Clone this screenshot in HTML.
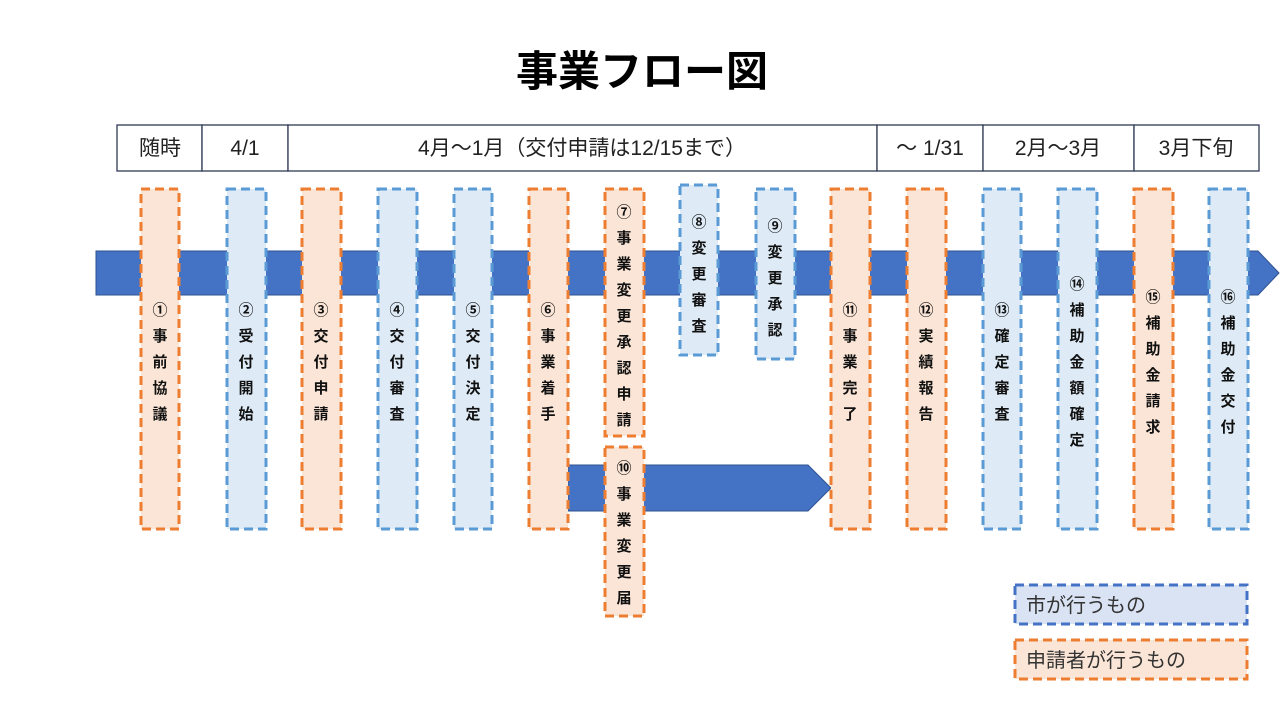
<!DOCTYPE html>
<html><head><meta charset="utf-8"><style>
body{margin:0;background:#fff;}
svg{display:block;font-family:"Liberation Sans","Noto Sans CJK JP",sans-serif;}
</style></head><body>
<svg width="1280" height="720" viewBox="0 0 1280 720">
<text x="642" y="86" font-size="42" font-weight="bold" text-anchor="middle">事業フロー図</text>
<g stroke="#2F3A55" stroke-width="1.3" fill="#fff">
<rect x="117" y="125" width="85" height="46"/>
<rect x="202" y="125" width="86" height="46"/>
<rect x="288" y="125" width="589" height="46"/>
<rect x="877" y="125" width="106" height="46"/>
<rect x="983" y="125" width="151" height="46"/>
<rect x="1134" y="125" width="125" height="46"/>
</g>
<g font-size="21" text-anchor="middle" fill="#222">
<text x="160" y="155">随時</text>
<text x="245" y="155">4/1</text>
<text x="582" y="155">4月～1月（交付申請は12/15まで）</text>
<text x="930" y="155">～ 1/31</text>
<text x="1058" y="155">2月～3月</text>
<text x="1196" y="155">3月下旬</text>
</g>
<polygon points="96,251 1258,251 1279,273 1258,295 96,295" fill="#4472C4" stroke="#2F528F" stroke-width="1"/>
<polygon points="568,465 808,465 831,488 808,511 568,511" fill="#4472C4" stroke="#2F528F" stroke-width="1"/>
<g stroke-width="3" stroke-dasharray="9,5">
<g fill="#FBE5D6" stroke="#ED7D31">
<rect x="141" y="189" width="38" height="340"/>
<rect x="302" y="189" width="39" height="340"/>
<rect x="529" y="189" width="39" height="340"/>
<rect x="605" y="189" width="39" height="247"/>
<rect x="605" y="447" width="39" height="169"/>
<rect x="831" y="189" width="39" height="340"/>
<rect x="907" y="189" width="39" height="340"/>
<rect x="1134" y="189" width="39" height="340"/>
</g>
<g fill="#DEEBF7" stroke="#5B9BD5">
<rect x="227" y="189" width="39" height="340"/>
<rect x="378" y="189" width="39" height="340"/>
<rect x="454" y="189" width="38" height="340"/>
<rect x="680" y="185" width="38" height="170"/>
<rect x="756" y="189" width="39" height="170"/>
<rect x="983" y="189" width="38" height="340"/>
<rect x="1058" y="189" width="39" height="340"/>
<rect x="1209" y="189" width="39" height="340"/>
</g>
</g>
<g font-size="15" font-weight="bold" text-anchor="middle" fill="#111">
<text x="160" y="315"><tspan x="160">①</tspan><tspan x="160" dy="26">事</tspan><tspan x="160" dy="26">前</tspan><tspan x="160" dy="26">協</tspan><tspan x="160" dy="26">議</tspan></text>
<text x="246" y="315"><tspan x="246">②</tspan><tspan x="246" dy="26">受</tspan><tspan x="246" dy="26">付</tspan><tspan x="246" dy="26">開</tspan><tspan x="246" dy="26">始</tspan></text>
<text x="321" y="315"><tspan x="321">③</tspan><tspan x="321" dy="26">交</tspan><tspan x="321" dy="26">付</tspan><tspan x="321" dy="26">申</tspan><tspan x="321" dy="26">請</tspan></text>
<text x="397" y="315"><tspan x="397">④</tspan><tspan x="397" dy="26">交</tspan><tspan x="397" dy="26">付</tspan><tspan x="397" dy="26">審</tspan><tspan x="397" dy="26">査</tspan></text>
<text x="473" y="315"><tspan x="473">⑤</tspan><tspan x="473" dy="26">交</tspan><tspan x="473" dy="26">付</tspan><tspan x="473" dy="26">決</tspan><tspan x="473" dy="26">定</tspan></text>
<text x="548" y="315"><tspan x="548">⑥</tspan><tspan x="548" dy="26">事</tspan><tspan x="548" dy="26">業</tspan><tspan x="548" dy="26">着</tspan><tspan x="548" dy="26">手</tspan></text>
<text x="624" y="217"><tspan x="624">⑦</tspan><tspan x="624" dy="26">事</tspan><tspan x="624" dy="26">業</tspan><tspan x="624" dy="26">変</tspan><tspan x="624" dy="26">更</tspan><tspan x="624" dy="26">承</tspan><tspan x="624" dy="26">認</tspan><tspan x="624" dy="26">申</tspan><tspan x="624" dy="26">請</tspan></text>
<text x="624" y="473"><tspan x="624">⑩</tspan><tspan x="624" dy="26">事</tspan><tspan x="624" dy="26">業</tspan><tspan x="624" dy="26">変</tspan><tspan x="624" dy="26">更</tspan><tspan x="624" dy="26">届</tspan></text>
<text x="699" y="227"><tspan x="699">⑧</tspan><tspan x="699" dy="26">変</tspan><tspan x="699" dy="26">更</tspan><tspan x="699" dy="26">審</tspan><tspan x="699" dy="26">査</tspan></text>
<text x="775" y="231"><tspan x="775">⑨</tspan><tspan x="775" dy="26">変</tspan><tspan x="775" dy="26">更</tspan><tspan x="775" dy="26">承</tspan><tspan x="775" dy="26">認</tspan></text>
<text x="850" y="315"><tspan x="850">⑪</tspan><tspan x="850" dy="26">事</tspan><tspan x="850" dy="26">業</tspan><tspan x="850" dy="26">完</tspan><tspan x="850" dy="26">了</tspan></text>
<text x="926" y="315"><tspan x="926">⑫</tspan><tspan x="926" dy="26">実</tspan><tspan x="926" dy="26">績</tspan><tspan x="926" dy="26">報</tspan><tspan x="926" dy="26">告</tspan></text>
<text x="1002" y="315"><tspan x="1002">⑬</tspan><tspan x="1002" dy="26">確</tspan><tspan x="1002" dy="26">定</tspan><tspan x="1002" dy="26">審</tspan><tspan x="1002" dy="26">査</tspan></text>
<text x="1077" y="289"><tspan x="1077">⑭</tspan><tspan x="1077" dy="26">補</tspan><tspan x="1077" dy="26">助</tspan><tspan x="1077" dy="26">金</tspan><tspan x="1077" dy="26">額</tspan><tspan x="1077" dy="26">確</tspan><tspan x="1077" dy="26">定</tspan></text>
<text x="1153" y="302"><tspan x="1153">⑮</tspan><tspan x="1153" dy="26">補</tspan><tspan x="1153" dy="26">助</tspan><tspan x="1153" dy="26">金</tspan><tspan x="1153" dy="26">請</tspan><tspan x="1153" dy="26">求</tspan></text>
<text x="1228" y="302"><tspan x="1228">⑯</tspan><tspan x="1228" dy="26">補</tspan><tspan x="1228" dy="26">助</tspan><tspan x="1228" dy="26">金</tspan><tspan x="1228" dy="26">交</tspan><tspan x="1228" dy="26">付</tspan></text>
</g>
<rect x="1015" y="585" width="232" height="39" fill="#DAE3F3" stroke="#4472C4" stroke-width="3" stroke-dasharray="9,5"/>
<rect x="1015" y="640" width="232" height="39" fill="#FBE5D6" stroke="#ED7D31" stroke-width="3" stroke-dasharray="9,5"/>
<g font-size="20" fill="#333">
<text x="1026" y="612">市が行うもの</text>
<text x="1026" y="667">申請者が行うもの</text>
</g>
</svg>
</body></html>
